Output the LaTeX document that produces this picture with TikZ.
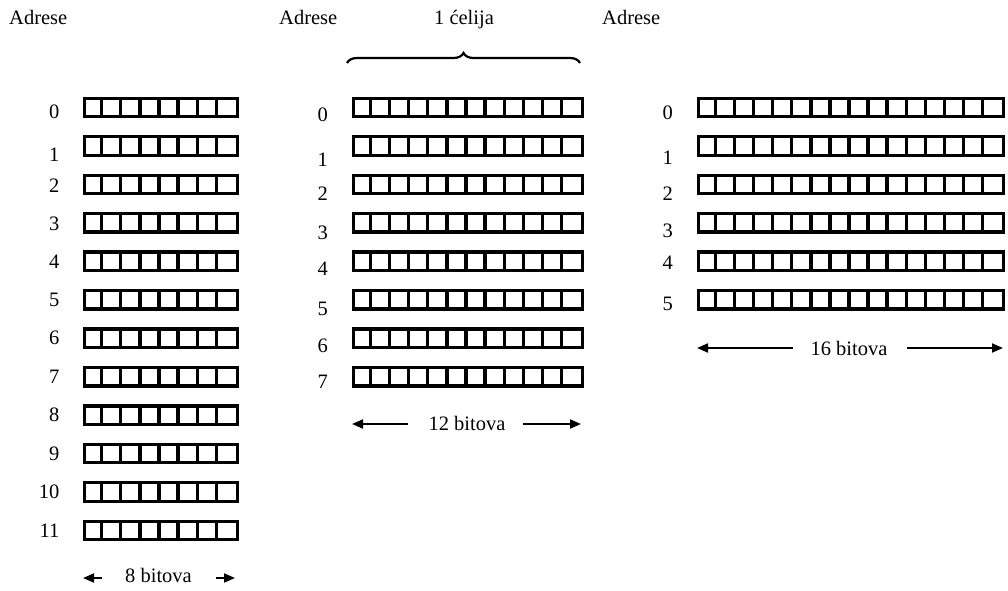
\documentclass[tikz,border=0pt]{standalone}
\usepackage{fontspec}
\setmainfont{Liberation Serif}
\usetikzlibrary{arrows.meta,decorations.pathreplacing}
\begin{document}
\begin{tikzpicture}[x=1pt,y=-1pt,
  txt/.style={inner sep=0pt,font=\fontsize{20.5}{24}\selectfont},
  rowbox/.style={draw=black,line width=3.3pt,inner sep=0pt,minimum height=18.5pt},
  cellline/.style={draw=black,line width=3.3pt},
  widtharrow/.style={line width=1.9pt,-{Triangle[length=11pt,width=9pt]}},
  bracestyle/.style={line width=2.2pt,decorate,decoration={brace,amplitude=10pt}}]
\useasboundingbox (0,0) rectangle (1008,590);
% headers
\node[txt,anchor=base west] (adrL) at (9,24) {Adrese};
\node[txt,anchor=base west] (adrM) at (279,24) {Adrese};
\node[txt,anchor=base] (celija) at (464,24) {1 ćelija};
\node[txt,anchor=base west] (adrR) at (602,24) {Adrese};
% left memory: 12 rows x 8 bits
\foreach \i/\dy in {0/4,1/9,2/1,3/1,4/0,5/0,6/0,7/0,8/0,9/0,10/0,11/0}{
  \pgfmathsetmacro\c{107.5+38.45*\i}
  \node[rowbox,minimum width=153pt,anchor=west] (L\i) at (82.5,\c) {};
  \foreach \k in {1,...,7}{
    \draw[cellline] (82.5+\k*19.125,\c-9.25) -- (82.5+\k*19.125,\c+9.25);
  }
  \node[txt,anchor=east] (Ln\i) at (59.5,\c+\dy) {\i};
}
% middle memory: 8 rows x 12 bits
\foreach \i/\dy in {0/7,1/14,2/9,3/10,4/7,5/9,6/8,7/5}{
  \pgfmathsetmacro\c{107.5+38.45*\i}
  \node[rowbox,minimum width=229pt,anchor=west] (M\i) at (351.5,\c) {};
  \foreach \k in {1,...,11}{
    \draw[cellline] (351.5+\k*19.083,\c-9.25) -- (351.5+\k*19.083,\c+9.25);
  }
  \node[txt,anchor=east] (Mn\i) at (328,\c+\dy) {\i};
}
% right memory: 6 rows x 16 bits
\foreach \i/\dy in {0/5,1/12,2/9,3/8,4/1,5/4}{
  \pgfmathsetmacro\c{107.5+38.45*\i}
  \node[rowbox,minimum width=305pt,anchor=west] (R\i) at (696.5,\c) {};
  \foreach \k in {1,...,15}{
    \draw[cellline] (696.5+\k*19.0625,\c-9.25) -- (696.5+\k*19.0625,\c+9.25);
  }
  \node[txt,anchor=east] (Rn\i) at (673,\c+\dy) {\i};
}
% brace over middle
\coordinate (brL) at (347,63);
\coordinate (brR) at (580,63);
\draw[bracestyle] (brL) -- (brR);
% width labels
\node[txt,anchor=base] (b8) at (158.5,582) {8 bitova};
\node[txt,anchor=base] (b12) at (467,430) {12 bitova};
\node[txt,anchor=base] (b16) at (849,355) {16 bitova};
\coordinate (a8a) at (102,578); \coordinate (a8b) at (83,578);
\coordinate (a8c) at (216,578); \coordinate (a8d) at (235,578);
\coordinate (a12a) at (408,424); \coordinate (a12b) at (352,424);
\coordinate (a12c) at (523,424); \coordinate (a12d) at (581,424);
\coordinate (a16a) at (793,348); \coordinate (a16b) at (697,348);
\coordinate (a16c) at (907,348); \coordinate (a16d) at (1003,348);
\draw[widtharrow] (a8a) -- (a8b);
\draw[widtharrow] (a8c) -- (a8d);
\draw[widtharrow] (a12a) -- (a12b);
\draw[widtharrow] (a12c) -- (a12d);
\draw[widtharrow] (a16a) -- (a16b);
\draw[widtharrow] (a16c) -- (a16d);
\end{tikzpicture}
\end{document}
